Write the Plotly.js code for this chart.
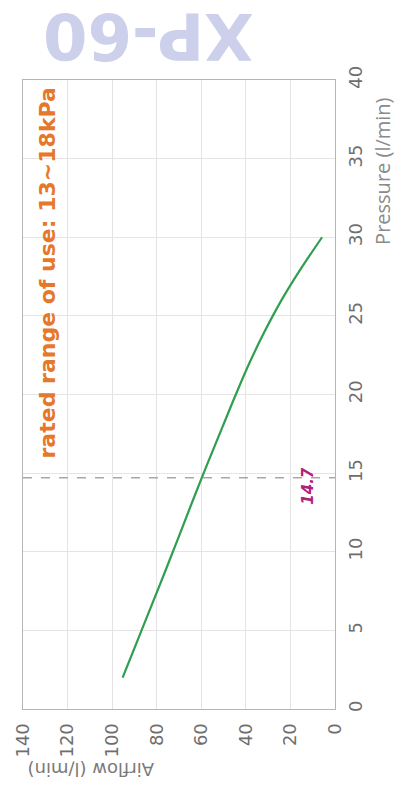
<!DOCTYPE html>
<html>
<head>
<meta charset="utf-8">
<script src="https://cdn.plot.ly/plotly-3.0.1.min.js"></script>
<style>
html,body{margin:0;padding:0;background:#fff;}
#chart{width:404px;height:789px;}
</style>
</head>
<body>
<div id="chart"></div>
<script>
// Data
const pressure = [2, 5, 8, 11, 14.7, 18, 20, 22, 24, 26, 28, 30];
const airflow  = [95.3, 86.8, 78.3, 70.0, 59.8, 50.3, 44.5, 38.4, 31.6, 24.0, 15.3, 5.8];
const ratedPressure = 14.7;
const airflowTicks = [0, 20, 40, 60, 80, 100, 120, 140];
const pressureTicks = [0, 5, 10, 15, 20, 25, 30, 35, 40];
const chartTitle = "XP-60";
const ratedText = "rated range of use: 13~18kPa";
const xTitle = "Airflow (l/min)";
const yTitle = "Pressure (l/min)";

const traces = [{
  x: airflow, y: pressure, type: 'scatter', mode: 'lines',
  line: {color: '#2f9e4f', width: 2.2, shape: 'spline', smoothing: 1},
  hoverinfo: 'skip', showlegend: false
}];

const layout = {
  width: 404, height: 789,
  margin: {l: 23, r: 69, t: 80, b: 80},
  paper_bgcolor: '#ffffff', plot_bgcolor: '#ffffff',
  showlegend: false,
  xaxis: {
    range: [140, 0], tickvals: airflowTicks, ticktext: airflowTicks.map(String),
    tickangle: -90, showgrid: true, gridcolor: '#e4e4e4', gridwidth: 1,
    zeroline: false, showline: true, linecolor: '#b5b5b5', linewidth: 1, mirror: true,
    ticks: '', ticklabelstandoff: 6,
    tickfont: {family: 'DejaVu Sans', size: 18, color: '#6e6e6e'}
  },
  yaxis: {
    range: [0, 40], side: 'right', tickvals: pressureTicks, ticktext: pressureTicks.map(String),
    tickangle: -90, showgrid: true, gridcolor: '#e4e4e4', gridwidth: 1,
    zeroline: false, showline: true, linecolor: '#b5b5b5', linewidth: 1, mirror: true,
    ticks: '', ticklabelstandoff: 4,
    tickfont: {family: 'DejaVu Sans', size: 18, color: '#6e6e6e'}
  },
  shapes: [{
    type: 'line', xref: 'x', yref: 'y', x0: 140, x1: 0, y0: ratedPressure, y1: ratedPressure,
    line: {color: '#a8a8a8', width: 1.5, dash: 'dash'}
  }],
  annotations: [
    {text: chartTitle, xref: 'paper', yref: 'paper', x: 0.40, y: 1.070, xanchor: 'center', yanchor: 'middle', showarrow: false,
     textangle: 180, font: {family: 'DejaVu Sans', size: 64, color: '#ccd0eb', weight: 'bold'}},
    {text: ratedText, xref: 'x', yref: 'y', x: 129.2, y: 27.7, xanchor: 'center', yanchor: 'middle', showarrow: false,
     textangle: -90, font: {family: 'DejaVu Sans', size: 22, color: '#e5782a', weight: 'bold'}},
    {text: '<b><i>' + String(ratedPressure) + '</i></b>', xref: 'x', yref: 'y', x: 12.1, y: 14.2, xanchor: 'center', yanchor: 'middle', showarrow: false,
     textangle: -90, font: {family: 'DejaVu Sans', size: 15, color: '#b0207c'}},
    {text: yTitle, xref: 'paper', yref: 'paper', x: 1.154, y: 0.854, xanchor: 'center', yanchor: 'middle', showarrow: false,
     textangle: -90, font: {family: 'Open Sans', size: 20, color: '#8a8a8a'}},
    {text: xTitle, xref: 'paper', yref: 'paper', x: 0.218, y: -0.097, xanchor: 'center', yanchor: 'middle', showarrow: false,
     textangle: 180, font: {family: 'DejaVu Sans', size: 18, color: '#7a7a7a'}}
  ]
};

Plotly.newPlot('chart', traces, layout, {staticPlot: true, displayModeBar: false});
</script>
</body>
</html>
